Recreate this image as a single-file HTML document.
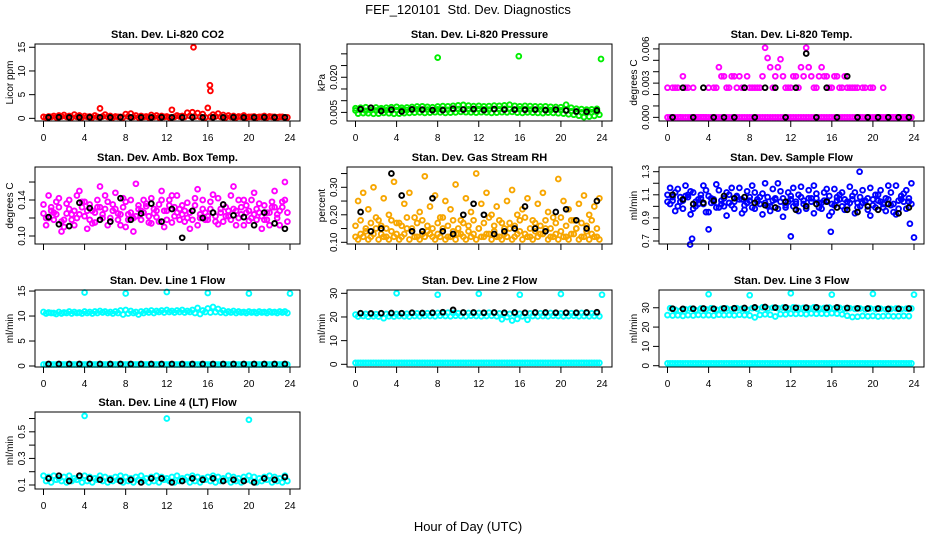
<!DOCTYPE html>
<html><head><meta charset="utf-8"><style>
html,body{margin:0;padding:0;background:#fff;}
svg{display:block;font-family:"Liberation Sans",Arial,sans-serif;}
</style></head><body>
<svg id="chart" width="936" height="540" viewBox="0 0 936 540" xmlns="http://www.w3.org/2000/svg">
<rect x="0" y="0" width="936" height="540" fill="#fff"/>
<text x="468" y="14" text-anchor="middle" font-size="13">FEF_120101&#160; Std. Dev. Diagnostics</text>
<text x="468" y="531" text-anchor="middle" font-size="13">Hour of Day (UTC)</text>
</svg>
<script>
const HOURS=[0,0.5,1,1.5,2,2.5,3,3.5,4,4.5,5,5.5,6,6.5,7,7.5,8,8.5,9,9.5,10,10.5,11,11.5,12,12.5,13,13.5,14,14.5,15,15.5,16,16.5,17,17.5,18,18.5,19,19.5,20,20.5,21,21.5,22,22.5,23,23.5];
const HOURS_B=[0.25,0.75,1.25,1.75,2.25,2.75,3.25,3.75,4.25,4.75,5.25,5.75,6.25,6.75,7.25,7.75,8.25,8.75,9.25,9.75,10.25,10.75,11.25,11.75,12.25,12.75,13.25,13.75,14.25,14.75,15.25,15.75,16.25,16.75,17.25,17.75,18.25,18.75,19.25,19.75,20.25,20.75,21.25,21.75,22.25,22.75,23.25,23.75];
const BLACK_HOURS=[0.5,1.5,2.5,3.5,4.5,5.5,6.5,7.5,8.5,9.5,10.5,11.5,12.5,13.5,14.5,15.5,16.5,17.5,18.5,19.5,20.5,21.5,22.5,23.5];
const OUT_HOURS=[4,8,12,16,20,24];

const co2Red=[0.3,0.4,0.5,0.6,0.7,0.5,0.8,0.6,0.5,0.4,0.6,2.1,0.8,0.5,0.4,0.3,0.9,1.0,0.6,0.5,0.4,0.7,0.6,0.5,0.4,1.8,0.6,0.5,1.2,1.3,1.1,0.9,2.2,0.8,1.0,0.7,0.6,0.5,0.4,0.6,0.3,0.4,0.3,0.5,0.4,0.3,0.3,0.2];
const co2RedB=[0.2,0.3,0.2,0.4,0.3,0.2,0.3,0.2,0.3,0.2,0.3,0.4,0.3,0.2,0.3,0.2,0.4,0.3,0.2,0.3,0.2,0.3,0.2,0.3,0.2,0.3,0.4,0.3,0.5,0.4,0.3,0.2,0.3,0.4,0.3,0.2,0.3,0.2,0.3,0.2,0.3,0.2,0.3,0.2,0.3,0.2,0.3,0.2];
const co2OutX=[14.6,16.2,16.25];
const co2OutY=[15,7,5.8];
const co2Black=[0.2,0.25,0.2,0.2,0.25,0.2,0.2,0.25,0.2,0.2,0.2,0.25,0.2,0.2,0.25,0.2,0.2,0.2,0.25,0.2,0.2,0.25,0.2,0.2];

const presGreen=[0.0068,0.0070,0.0072,0.0069,0.0071,0.0068,0.0070,0.0072,0.0074,0.0070,0.0071,0.0073,0.0075,0.0076,0.0074,0.0072,0.0075,0.0077,0.0076,0.0078,0.0080,0.0082,0.0079,0.0077,0.0078,0.0076,0.0077,0.0079,0.0078,0.0080,0.0083,0.0078,0.0076,0.0078,0.0077,0.0076,0.0075,0.0076,0.0074,0.0073,0.0072,0.0083,0.0070,0.0066,0.0064,0.0062,0.0063,0.0065];
const presGreenB=[0.0045,0.0047,0.0046,0.0044,0.0045,0.0048,0.0046,0.0044,0.0045,0.0047,0.0048,0.0049,0.0050,0.0048,0.0049,0.0051,0.0050,0.0048,0.0049,0.0050,0.0052,0.0051,0.0050,0.0049,0.0051,0.0050,0.0048,0.0049,0.0051,0.0050,0.0052,0.0049,0.0048,0.0050,0.0049,0.0048,0.0047,0.0049,0.0048,0.0046,0.0045,0.0042,0.0040,0.0036,0.0030,0.0032,0.0035,0.0040];
const presGreenC=[0.0058,0.0060,0.0057,0.0059,0.0058,0.0061,0.0059,0.0058,0.0060,0.0061,0.0060,0.0062,0.0063,0.0061,0.0062,0.0060,0.0063,0.0062,0.0061,0.0063,0.0064,0.0062,0.0063,0.0061,0.0064,0.0063,0.0062,0.0064,0.0063,0.0065,0.0064,0.0062,0.0063,0.0064,0.0062,0.0061,0.0062,0.0061,0.0060,0.0061,0.0059,0.0058,0.0055,0.0052,0.0050,0.0049,0.0051,0.0053];
const presOutX=[8,15.9,23.9];
const presOutY=[0.0284,0.0290,0.0278];
const presBlack=[0.0064,0.0070,0.0056,0.0062,0.0054,0.0063,0.0062,0.0060,0.0060,0.0066,0.0062,0.0064,0.0060,0.0064,0.0062,0.0062,0.0061,0.0062,0.0060,0.0062,0.0058,0.0054,0.0053,0.0058];

const tempMagA=[0,0,0,0,0,0,0,0,0,0,0,0,0,0,0,0,0,0,0,0,0,0,0,0,0,0,0,0,0,0,0,0,0,0,0,0,0,0,0,0,0,0,0,0,0,0,0,0];
const tempMagB=[0.0026,0.0026,0.0026,0.0036,0.0026,0.0026,0,0,0.0026,0.0026,0.0044,0.0036,0.0026,0.0036,0.0036,0.0026,0.0026,0.0026,0.0026,0.0061,0.0044,0.0036,0.0051,0.0026,0.0026,0.0036,0.0044,0.0061,0.0036,0.0026,0.0044,0.0036,0.0026,0.0036,0.0026,0.0026,0.0026,0.0026,0.0026,0,0.0026,0,0.0026,0,0,0,0,0];
const tempMagC=[0,0.0026,0,0.0026,0,0,0,0,0,0.0026,0.0036,0.0026,0.0036,0.0026,0.0026,0.0036,0.0026,0.0026,0.0036,0.0052,0.0026,0.0044,0.0036,0.0026,0.0036,0.0026,0.0036,0.0044,0.0026,0.0036,0.0036,0.0026,0.0036,0.0026,0.0036,0.0026,0.0026,0,0.0026,0.0026,0,0,0,0,0,0,0,0];
const tempBlack=[0,0.0026,0,0.0026,0,0,0,0.0026,0,0.0026,0.0026,0,0.0026,0.0056,0,0.0026,0,0.0036,0,0,0,0,0,0];

const ambMagA=[0.125,0.145,0.118,0.132,0.110,0.140,0.128,0.150,0.122,0.135,0.115,0.155,0.130,0.120,0.148,0.112,0.138,0.126,0.158,0.118,0.133,0.142,0.121,0.150,0.128,0.115,0.145,0.124,0.137,0.118,0.152,0.130,0.122,0.146,0.113,0.135,0.128,0.155,0.120,0.140,0.117,0.148,0.126,0.134,0.112,0.150,0.128,0.160];
const ambMagB=[0.112,0.128,0.138,0.105,0.125,0.118,0.145,0.132,0.108,0.128,0.140,0.120,0.112,0.135,0.125,0.142,0.118,0.105,0.130,0.140,0.115,0.125,0.135,0.110,0.140,0.132,0.118,0.128,0.108,0.142,0.120,0.126,0.138,0.116,0.130,0.122,0.145,0.112,0.132,0.126,0.140,0.118,0.108,0.126,0.138,0.120,0.132,0.116];
const ambMagC=[0.135,0.120,0.126,0.142,0.118,0.130,0.112,0.124,0.138,0.118,0.126,0.132,0.145,0.116,0.130,0.124,0.110,0.140,0.122,0.128,0.136,0.114,0.128,0.140,0.118,0.145,0.126,0.134,0.120,0.128,0.112,0.140,0.118,0.126,0.142,0.116,0.122,0.130,0.140,0.112,0.128,0.124,0.136,0.118,0.126,0.132,0.112,0.140];
const ambMagD=[0.120,0.132,0.124,0.116,0.136,0.124,0.120,0.138,0.128,0.114,0.132,0.124,0.138,0.128,0.118,0.132,0.124,0.120,0.134,0.126,0.122,0.130,0.116,0.128,0.134,0.122,0.130,0.116,0.126,0.134,0.124,0.118,0.130,0.122,0.126,0.132,0.118,0.128,0.124,0.134,0.120,0.130,0.122,0.118,0.132,0.124,0.138,0.126];
const ambBlack=[0.121,0.113,0.111,0.137,0.131,0.118,0.116,0.142,0.118,0.125,0.136,0.116,0.130,0.098,0.128,0.120,0.126,0.135,0.123,0.121,0.112,0.126,0.114,0.108];

const rhOrA=[0.12,0.13,0.14,0.12,0.15,0.13,0.12,0.14,0.13,0.12,0.15,0.14,0.12,0.13,0.14,0.12,0.13,0.15,0.12,0.14,0.13,0.12,0.14,0.13,0.15,0.12,0.13,0.14,0.12,0.13,0.15,0.12,0.14,0.13,0.12,0.14,0.13,0.15,0.12,0.13,0.14,0.12,0.13,0.15,0.12,0.14,0.13,0.12];
const rhOrB=[0.25,0.28,0.22,0.30,0.18,0.26,0.20,0.32,0.17,0.24,0.28,0.19,0.21,0.34,0.23,0.27,0.19,0.25,0.22,0.31,0.18,0.26,0.21,0.35,0.24,0.28,0.20,0.23,0.17,0.25,0.29,0.20,0.22,0.26,0.18,0.24,0.28,0.21,0.19,0.33,0.25,0.22,0.18,0.24,0.27,0.20,0.23,0.26];
const rhOrC=[0.16,0.18,0.15,0.17,0.19,0.16,0.15,0.18,0.17,0.16,0.19,0.15,0.17,0.18,0.16,0.15,0.17,0.19,0.16,0.18,0.15,0.17,0.16,0.18,0.15,0.17,0.19,0.16,0.18,0.15,0.17,0.16,0.18,0.19,0.15,0.17,0.16,0.18,0.15,0.17,0.19,0.16,0.18,0.15,0.17,0.16,0.18,0.15];
const rhOrD=[0.11,0.12,0.11,0.13,0.11,0.12,0.11,0.12,0.11,0.13,0.11,0.12,0.11,0.12,0.13,0.11,0.12,0.11,0.12,0.11,0.13,0.11,0.12,0.11,0.12,0.13,0.11,0.12,0.11,0.12,0.11,0.13,0.11,0.12,0.11,0.12,0.13,0.11,0.12,0.11,0.12,0.11,0.13,0.11,0.12,0.11,0.12,0.11];
const rhBlack=[0.21,0.14,0.15,0.35,0.27,0.14,0.14,0.26,0.14,0.13,0.20,0.24,0.20,0.13,0.14,0.15,0.23,0.15,0.14,0.21,0.22,0.18,0.15,0.25];

const flowBlueA=[1.10,1.05,1.15,0.98,1.08,1.12,1.02,1.18,0.95,1.06,1.14,1.00,1.10,1.04,1.16,0.97,1.08,1.12,1.02,1.20,0.96,1.06,1.13,1.01,1.09,1.04,1.17,0.98,1.07,1.11,1.03,1.15,0.95,1.05,1.12,1.00,1.09,1.03,1.14,0.97,1.06,1.10,1.02,1.18,0.95,1.05,1.11,1.04];
const flowBlueB=[1.02,0.96,1.04,1.09,0.93,1.00,1.07,0.95,1.03,0.99,1.05,0.92,1.01,1.08,0.94,1.03,0.99,1.06,0.93,1.00,1.05,0.98,0.91,1.04,1.00,0.96,1.02,1.07,0.94,0.99,1.05,0.92,1.01,1.06,0.97,1.03,0.94,1.00,1.05,0.92,0.99,1.04,0.96,1.01,0.93,1.06,0.98,1.02];
const flowBlueC=[1.16,1.12,1.08,1.18,1.13,1.04,1.10,1.14,1.07,1.19,1.02,1.12,1.16,1.09,1.06,1.13,1.18,1.04,1.11,1.08,1.15,1.20,1.07,1.12,1.16,1.10,1.05,1.14,1.18,1.03,1.12,1.09,1.15,1.10,1.06,1.17,1.12,1.08,1.04,1.16,1.10,1.14,1.07,1.12,1.18,1.09,1.14,1.20];
const flowBlueD=[1.04,1.08,1.00,1.05,1.10,0.98,1.06,1.02,1.09,1.04,0.99,1.07,1.03,0.98,1.06,1.01,1.05,0.98,1.08,1.03,1.00,1.07,1.04,0.99,1.06,1.02,1.08,1.00,1.04,1.07,0.98,1.05,1.02,1.08,1.00,1.04,1.06,0.99,1.03,1.07,1.01,1.05,0.99,1.06,1.02,0.98,1.04,1.07];
const flowOutX=[2.2,2.4,4.0,12.0,15.9,18.7,23.6,24.0];
const flowOutY=[0.67,0.72,0.80,0.74,0.78,1.30,0.85,0.73];
const flowBlack=[1.10,1.06,1.02,1.03,1.05,1.09,1.07,1.08,1.03,1.01,0.99,1.04,0.97,1.00,1.02,1.04,0.99,0.97,0.95,1.00,0.97,1.02,0.94,0.99];

const l1CyanA=[10.8,10.7,10.6,10.8,10.7,10.9,10.8,10.7,10.9,10.8,10.9,11.0,10.9,10.8,10.9,11.1,11.2,11.0,10.8,10.9,11.0,11.1,11.0,11.1,11.2,11.0,11.1,11.2,11.0,11.2,11.6,11.1,11.5,11.8,11.4,11.1,10.9,11.0,10.9,10.8,10.9,10.8,10.9,10.8,10.9,10.8,10.9,10.9];
const l1CyanB=[10.5,10.6,10.4,10.5,10.6,10.5,10.6,10.5,10.6,10.5,10.6,10.7,10.6,10.5,10.6,10.3,10.5,10.6,10.3,10.6,10.7,10.6,10.8,10.7,10.8,10.7,10.8,10.7,10.8,10.6,10.4,10.8,10.7,10.8,10.7,10.6,10.7,10.6,10.7,10.6,10.7,10.6,10.7,10.6,10.7,10.6,10.7,10.6];
const l1CyanLow=[0.3,0.3,0.3,0.3,0.3,0.3,0.3,0.3,0.3,0.3,0.3,0.3,0.3,0.3,0.3,0.3,0.3,0.3,0.3,0.3,0.3,0.3,0.3,0.3,0.3,0.3,0.3,0.3,0.3,0.3,0.3,0.3,0.3,0.3,0.3,0.3,0.3,0.3,0.3,0.3,0.3,0.3,0.3,0.3,0.3,0.3,0.3,0.3];
const l1Out=[14.7,14.5,14.8,14.6,14.5,14.5];
const l1Black=[0.4,0.4,0.4,0.4,0.4,0.4,0.4,0.4,0.4,0.4,0.4,0.4,0.4,0.4,0.4,0.4,0.4,0.4,0.4,0.4,0.4,0.4,0.4,0.4];

const l2CyanA=[21.0,21.5,21.3,21.4,21.2,21.5,21.3,21.4,21.3,21.5,21.4,21.6,21.5,21.4,21.6,21.5,21.7,21.6,21.8,21.7,21.6,21.8,21.7,21.6,21.7,21.6,21.8,21.7,21.5,21.4,21.3,21.5,21.4,21.6,21.5,21.7,21.6,21.5,21.7,21.6,21.5,21.7,21.6,21.5,21.7,21.6,21.5,21.6];
const l2CyanB=[20.2,20.4,20.1,20.3,20.2,19.5,20.3,20.2,20.4,20.3,20.2,20.4,20.3,20.5,20.4,20.3,20.5,20.4,20.3,20.5,20.4,20.3,20.5,20.4,20.3,20.4,20.5,20.3,19.0,20.0,18.5,19.2,20.3,18.8,20.4,20.3,20.4,20.3,20.5,20.4,20.3,20.4,20.5,20.3,20.4,20.3,20.4,20.3];
const l2CyanLow=[0.6,0.6,0.6,0.6,0.6,0.6,0.6,0.6,0.6,0.6,0.6,0.6,0.6,0.6,0.6,0.6,0.6,0.6,0.6,0.6,0.6,0.6,0.6,0.6,0.6,0.6,0.6,0.6,0.6,0.6,0.6,0.6,0.6,0.6,0.6,0.6,0.6,0.6,0.6,0.6,0.6,0.6,0.6,0.6,0.6,0.6,0.6,0.6];
const l2Out=[30.0,29.4,29.8,29.4,29.7,29.4];
const l2Black=[21.6,21.5,21.6,21.7,21.6,21.8,21.7,21.8,22.0,23.0,21.9,21.9,21.8,21.9,21.8,21.9,21.8,21.9,21.9,21.8,21.8,21.8,21.9,22.0];

const l3CyanA=[26.2,26.0,26.1,25.8,26.2,26.0,26.3,26.1,26.2,26.0,26.4,26.2,26.3,26.1,26.4,26.2,26.0,25.0,26.3,26.6,26.4,25.5,26.7,26.6,27.0,26.8,27.0,26.7,27.1,26.9,27.0,26.8,27.2,27.0,26.6,25.9,25.2,25.4,25.8,25.6,25.8,25.5,25.7,25.8,25.6,25.7,25.8,25.7];
const l3CyanB=[29.8,29.0,28.5,29.2,29.5,28.8,29.6,29.2,29.8,29.0,29.4,29.6,29.2,29.8,29.5,29.0,29.8,29.4,30.2,29.6,30.0,29.8,30.1,29.6,30.2,29.9,30.0,29.8,30.2,29.7,29.9,30.1,29.6,30.0,29.5,29.8,29.4,29.6,29.2,29.6,29.3,29.5,29.2,29.4,29.6,29.3,29.5,29.6];
const l3CyanLow=[1.2,1.2,1.2,1.2,1.2,1.2,1.2,1.2,1.2,1.2,1.2,1.2,1.2,1.2,1.2,1.2,1.2,1.2,1.2,1.2,1.2,1.2,1.2,1.2,1.2,1.2,1.2,1.2,1.2,1.2,1.2,1.2,1.2,1.2,1.2,1.2,1.2,1.2,1.2,1.2,1.2,1.2,1.2,1.2,1.2,1.2,1.2,1.2];
const l3Out=[37.0,36.5,37.5,36.8,37.2,36.8];
const l3Black=[29.5,29.4,29.5,29.6,29.5,29.7,29.8,29.9,30.2,30.4,30.1,30.2,30.0,30.1,30.2,30.0,30.2,29.9,29.7,29.6,29.6,29.4,29.5,29.6];

const l4CyanA=[0.17,0.16,0.17,0.15,0.16,0.17,0.15,0.16,0.17,0.16,0.15,0.17,0.16,0.15,0.16,0.17,0.16,0.15,0.16,0.17,0.15,0.16,0.17,0.16,0.15,0.16,0.17,0.15,0.16,0.17,0.16,0.15,0.16,0.17,0.16,0.15,0.17,0.16,0.15,0.16,0.17,0.16,0.15,0.16,0.17,0.16,0.15,0.17];
const l4CyanB=[0.13,0.12,0.14,0.13,0.12,0.13,0.14,0.12,0.13,0.12,0.14,0.13,0.12,0.13,0.14,0.12,0.13,0.12,0.14,0.13,0.12,0.13,0.12,0.14,0.13,0.12,0.13,0.14,0.12,0.13,0.12,0.14,0.13,0.12,0.13,0.14,0.12,0.13,0.12,0.14,0.13,0.12,0.13,0.14,0.12,0.13,0.12,0.13];
const l4OutX=[4,12,20];
const l4OutY=[0.62,0.60,0.59];
const l4Black=[0.15,0.17,0.13,0.17,0.15,0.14,0.14,0.13,0.14,0.12,0.15,0.15,0.12,0.13,0.15,0.14,0.15,0.13,0.14,0.13,0.12,0.15,0.14,0.16];

const RED='#ff0000',GRN='#00ee00',MAG='#ff00ff',ORG='#f7a600',BLU='#0000ff',CYN='#00ffff',BLK='#000000';
const panels=[
 {name:'co2',col:0,row:0,title:'Stan. Dev. Li-820 CO2',ylab:'Licor ppm',ylim:[-0.56,15.69],ticks:[0,5,10,15],labels:['0','5','10','15'],
  series:[[HOURS,co2Red,RED],[HOURS_B,co2RedB,RED],[co2OutX,co2OutY,RED],[BLACK_HOURS,co2Black,BLK]]},
 {name:'pressure',col:1,row:0,title:'Stan. Dev. Li-820 Pressure',ylab:'kPa',ylim:[0.00133,0.0342],ticks:[0.005,0.01,0.015,0.02,0.025,0.03],labels:['0.005','','','0.020','',''],
  series:[[HOURS,presGreen,GRN],[HOURS_B,presGreenB,GRN],[HOURS,presGreenC,GRN],[presOutX,presOutY,GRN],[BLACK_HOURS,presBlack,BLK]]},
 {name:'temp',col:2,row:0,title:'Stan. Dev. Li-820 Temp.',ylab:'degrees C',ylim:[-0.00032,0.00643],ticks:[0,0.001,0.002,0.003,0.004,0.005,0.006],labels:['0.000','','','0.003','','','0.006'],
  series:[[HOURS,tempMagA,MAG],[HOURS_B,tempMagA,MAG],[HOURS,tempMagB,MAG],[HOURS_B,tempMagC,MAG],[BLACK_HOURS,tempBlack,BLK]]},
 {name:'amb-box-temp',col:0,row:1,title:'Stan. Dev. Amb. Box Temp.',ylab:'degrees C',ylim:[0.0911,0.1767],ticks:[0.10,0.12,0.14,0.16],labels:['0.10','','0.14',''],
  series:[[HOURS,ambMagA,MAG],[HOURS_B,ambMagB,MAG],[HOURS,ambMagC,MAG],[HOURS_B,ambMagD,MAG],[BLACK_HOURS,ambBlack,BLK]]},
 {name:'gas-stream-rh',col:1,row:1,title:'Stan. Dev. Gas Stream RH',ylab:'percent',ylim:[0.0938,0.3738],ticks:[0.10,0.15,0.20,0.25,0.30,0.35],labels:['0.10','','0.20','','0.30',''],
  series:[[HOURS,rhOrA,ORG],[HOURS_B,rhOrD,ORG],[HOURS_B,rhOrB,ORG],[HOURS,rhOrC,ORG],[BLACK_HOURS,rhBlack,BLK]]},
 {name:'sample-flow',col:2,row:1,title:'Stan. Dev. Sample Flow',ylab:'ml/min',ylim:[0.674,1.3407],ticks:[0.7,0.8,0.9,1.0,1.1,1.2,1.3],labels:['0.7','','0.9','','1.1','','1.3'],
  series:[[HOURS,flowBlueA,BLU],[HOURS_B,flowBlueB,BLU],[HOURS_B,flowBlueC,BLU],[HOURS,flowBlueD,BLU],[flowOutX,flowOutY,BLU],[BLACK_HOURS,flowBlack,BLK]]},
 {name:'line1-flow',col:0,row:2,title:'Stan. Dev. Line 1 Flow',ylab:'ml/min',ylim:[-0.2,15.21],ticks:[0,5,10,15],labels:['0','5','10','15'],
  series:[[HOURS,l1CyanA,CYN],[HOURS_B,l1CyanB,CYN],[HOURS,l1CyanLow,CYN],[HOURS_B,l1CyanLow,CYN],[OUT_HOURS,l1Out,CYN],[BLACK_HOURS,l1Black,BLK]]},
 {name:'line2-flow',col:1,row:2,title:'Stan. Dev. Line 2 Flow',ylab:'ml/min',ylim:[-1.14,31.4],ticks:[0,10,20,30],labels:['0','10','20','30'],
  series:[[HOURS,l2CyanA,CYN],[HOURS_B,l2CyanB,CYN],[HOURS,l2CyanLow,CYN],[HOURS_B,l2CyanLow,CYN],[OUT_HOURS,l2Out,CYN],[BLACK_HOURS,l2Black,BLK]]},
 {name:'line3-flow',col:2,row:2,title:'Stan. Dev. Line 3 Flow',ylab:'ml/min',ylim:[-0.67,39.2],ticks:[0,10,20,30],labels:['0','10','20','30'],
  series:[[HOURS,l3CyanA,CYN],[HOURS_B,l3CyanB,CYN],[HOURS,l3CyanLow,CYN],[HOURS_B,l3CyanLow,CYN],[OUT_HOURS,l3Out,CYN],[BLACK_HOURS,l3Black,BLK]]},
 {name:'line4-flow',col:0,row:3,title:'Stan. Dev. Line 4 (LT) Flow',ylab:'ml/min',ylim:[0.07,0.649],ticks:[0.1,0.2,0.3,0.4,0.5,0.6],labels:['0.1','','0.3','','0.5',''],
  series:[[HOURS,l4CyanA,CYN],[HOURS_B,l4CyanB,CYN],[l4OutX,l4OutY,CYN],[BLACK_HOURS,l4Black,BLK]]}
];
const XT=[0,4,8,12,16,20,24];
const COLX=[35,347,659], ROWY=[44,167,290,412], BW=265, BH=77;
const svg=document.getElementById('chart');
const NS='http://www.w3.org/2000/svg';
function mk(tag,attrs,parent){const e=document.createElementNS(NS,tag);for(const k in attrs)e.setAttribute(k,attrs[k]);parent.appendChild(e);return e;}
panels.forEach(p=>{
  const L=COLX[p.col],T=ROWY[p.row];
  const xs=v=>L+8.5+v*(246.5/24);
  const ys=v=>T+BH-(v-p.ylim[0])/(p.ylim[1]-p.ylim[0])*BH;
  const g=mk('g',{},svg);
  
  
  const t=mk('text',{x:L+BW/2,y:T-6,'text-anchor':'middle','font-size':'11','font-weight':'bold'},g);
  t.textContent=p.title;
  
  
  const pts=mk('g',{fill:'none','stroke-width':'1.9'},g);
  
  
  p.series.forEach(s=>{
    const X=s[0],Y=s[1];
    for(let i=0;i<Y.length;i++){
      const c=mk('circle',{cx:xs(X[i]).toFixed(1),cy:ys(Y[i]).toFixed(1),r:'2.4',stroke:s[2]},pts);
      
      
    }
  });
  const box=mk('rect',{x:L,y:T,width:BW,height:BH,fill:'none',stroke:'#000','stroke-width':'1'},g);
  
  
  const xa=mk('g',{},g);
  
  
  XT.forEach(v=>{
    mk('line',{x1:xs(v),x2:xs(v),y1:T+BH,y2:T+BH+6,stroke:'#000'},xa);
    if(p.row!==1){const tx=mk('text',{x:xs(v),y:T+BH+20,'text-anchor':'middle','font-size':'10'},xa);tx.textContent=v;
      
      }
  });
  const ya=mk('g',{},g);
  
  
  mk('line',{x1:L,x2:L,y1:ys(p.ticks[0]),y2:ys(p.ticks[p.ticks.length-1]),stroke:'#000'},ya);
  p.ticks.forEach((v,i)=>{
    const y=ys(v);
    mk('line',{x1:L-6,x2:L,y1:y,y2:y,stroke:'#000'},ya);
    if(p.labels[i]){const tx=mk('text',{x:L-8,y:y,'text-anchor':'middle','font-size':'10',transform:'rotate(-90 '+(L-8)+' '+y+')'},ya);
      tx.setAttribute('dy','-2');tx.textContent=p.labels[i];
      
      }
  });
  const yl=mk('text',{x:L-25,y:T+BH/2,'text-anchor':'middle','font-size':'10',transform:'rotate(-90 '+(L-25)+' '+(T+BH/2)+')'},g);
  yl.setAttribute('dy','3');
  yl.textContent=p.ylab;
  
  
});
</script>
</body></html>
